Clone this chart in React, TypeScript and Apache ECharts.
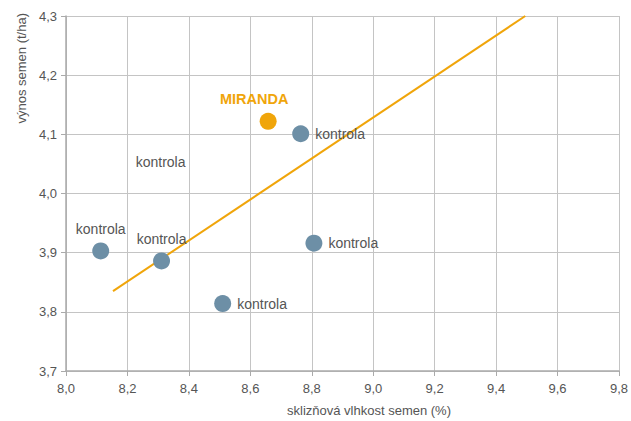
import React, { useEffect, useRef } from "react";
import * as echarts from "echarts";

const controlX = [8.113, 8.311, 8.51, 8.764, 8.807];
const controlY = [3.903, 3.886, 3.814, 4.101, 3.916];
const controlLabelPos = ["top", "top", "right", "right", "right"];
const controlLabel = "kontrola";

const mirandaX = [8.658];
const mirandaY = [4.122];
const mirandaLabel = "MIRANDA";

const strayLabelX = [8.308];
const strayLabelY = [4.053];

const trendX = [8.153, 9.495];
const trendY = [3.835, 4.3];

const xTitle = "sklizňová vlhkost semen (%)";
const yTitle = "výnos semen (t/ha)";

const FONT = "'Liberation Sans', Arial, sans-serif";
const BLUE = "#6d8fa6";
const ORANGE = "#f0a50a";
const TEXT = "#555";

export default function App() {
  const ref = useRef<HTMLDivElement>(null);
  useEffect(() => {
    if (!ref.current) return;
    const chart = echarts.init(ref.current, undefined, { renderer: "svg" });
    const fmt = (v: number) => v.toFixed(1).replace(".", ",");
    chart.setOption({
      animation: false,
      textStyle: { fontFamily: FONT },
      grid: { left: 66, right: 10, top: 16, bottom: 50 },
      xAxis: {
        type: "value",
        min: 8,
        max: 9.8,
        interval: 0.2,
        axisLine: { show: true, lineStyle: { color: "#aaa", width: 1.5 } },
        axisTick: { show: true, length: 5, lineStyle: { color: "#aaa" } },
        splitLine: { show: true, lineStyle: { color: "#c4c4c4", width: 1 } },
        axisLabel: { formatter: fmt, color: TEXT, fontSize: 13, margin: 11, fontFamily: FONT },
      },
      yAxis: {
        type: "value",
        min: 3.7,
        max: 4.3,
        interval: 0.1,
        axisLine: { show: true, lineStyle: { color: "#aaa", width: 1.5 } },
        axisTick: { show: true, length: 5, lineStyle: { color: "#aaa" } },
        splitLine: { show: true, lineStyle: { color: "#c4c4c4", width: 1 } },
        axisLabel: { formatter: fmt, color: TEXT, fontSize: 13, margin: 9, fontFamily: FONT },
      },
      graphic: [
        {
          type: "text",
          x: 369,
          y: 410,
          style: {
            text: xTitle,
            fill: TEXT,
            font: `13px ${FONT}`,
            textAlign: "center",
            textVerticalAlign: "middle",
          },
        },
        {
          type: "text",
          x: 21,
          y: 13,
          rotation: Math.PI / 2,
          style: {
            text: yTitle,
            fill: TEXT,
            font: `13px ${FONT}`,
            textAlign: "right",
            textVerticalAlign: "middle",
          },
        },
      ],
      series: [
        {
          type: "line",
          data: trendX.map((x, i) => [x, trendY[i]]),
          symbol: "none",
          lineStyle: { color: ORANGE, width: 2 },
          z: 1,
        },
        {
          type: "scatter",
          symbolSize: 17,
          itemStyle: { color: BLUE, opacity: 1 },
          data: controlX.map((x, i) => ({
            value: [x, controlY[i]],
            label: { position: controlLabelPos[i] },
          })),
          label: {
            show: true,
            formatter: controlLabel,
            color: TEXT,
            fontSize: 14,
            fontFamily: FONT,
            distance: 6,
          },
          z: 3,
        },
        {
          type: "scatter",
          symbolSize: 17,
          itemStyle: { color: ORANGE, opacity: 1 },
          data: mirandaX.map((x, i) => [x, mirandaY[i]]),
          label: {
            show: true,
            position: "top",
            offset: [-14, 0],
            formatter: mirandaLabel,
            color: ORANGE,
            fontSize: 14.5,
            fontWeight: "bold",
            fontFamily: FONT,
            distance: 6,
          },
          z: 3,
        },
        {
          type: "scatter",
          symbolSize: 0,
          itemStyle: { opacity: 1 },
          data: strayLabelX.map((x, i) => [x, strayLabelY[i]]),
          label: {
            show: true,
            position: "inside",
            formatter: controlLabel,
            color: TEXT,
            fontSize: 14,
            fontFamily: FONT,
            opacity: 1,
          },
          z: 3,
        },
      ],
    });
    return () => chart.dispose();
  }, []);
  return <div ref={ref} style={{ width: 631, height: 421, position: "absolute", left: 0, top: 0 }} />;
}
